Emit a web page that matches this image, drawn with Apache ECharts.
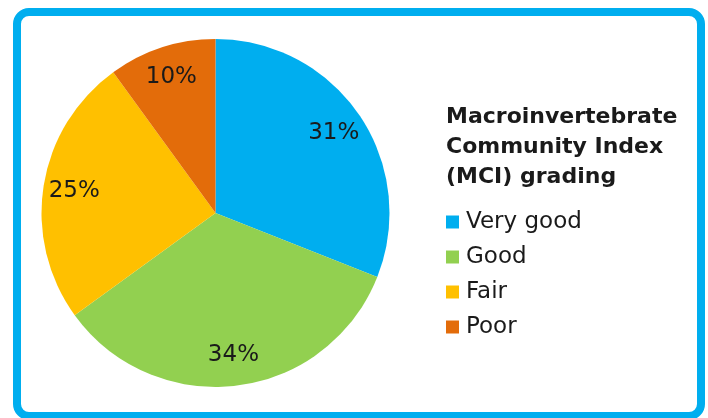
<!DOCTYPE html>
<html>
<head>
<meta charset="utf-8">
<script src="https://cdn.jsdelivr.net/npm/echarts@6/dist/echarts.min.js"></script>
<style>
  html, body { margin: 0; padding: 0; background: #fff; }
  #chart { width: 708px; height: 418px; }
</style>
</head>
<body>
<div id="chart"></div>
<script>
// MCI grading shares
const categories = ['Very good', 'Good', 'Fair', 'Poor'];
const shares = [31, 34, 25, 10];
const sliceColors = ['#00AEEF', '#92D050', '#FFC000', '#E36C0A'];
const legendTitle = 'Macroinvertebrate\nCommunity Index\n(MCI) grading';

const FONT = '"DejaVu Sans", sans-serif';
const pieData = categories.map((name, i) => ({ name, value: shares[i] }));

const chart = echarts.init(document.getElementById('chart'), null, { renderer: 'canvas' });
chart.setOption({
  backgroundColor: '#fff',
  animation: false,
  color: sliceColors,
  graphic: [{
    type: 'rect',
    shape: { x: 17, y: 12, width: 684, height: 404, r: 12 },
    style: { fill: 'none', stroke: '#00AEEF', lineWidth: 8 },
    silent: true
  }],
  title: {
    text: legendTitle,
    left: 441,
    top: 97,
    textStyle: { fontFamily: FONT, fontSize: 22, fontWeight: 'bold', color: '#1a1a1a', lineHeight: 30 }
  },
  legend: {
    orient: 'vertical',
    left: 446,
    top: 210,
    padding: 0,
    icon: 'rect',
    itemWidth: 13,
    itemHeight: 13,
    itemGap: 11,
    data: categories,
    textStyle: { fontFamily: FONT, fontSize: 23, color: '#1a1a1a', lineHeight: 24, padding: [0, 0, 0, 2] }
  },
  series: [
    {
      type: 'pie',
      center: [215.5, 213],
      radius: 174,
      startAngle: 90,
      clockwise: true,
      label: { show: false },
      labelLine: { show: false },
      emphasis: { disabled: true },
      data: pieData
    },
    {
      // transparent ring that carries the percentage labels
      type: 'pie',
      center: [215.5, 213],
      radius: [106, 174],
      startAngle: 90,
      clockwise: true,
      silent: true,
      itemStyle: { color: 'rgba(0,0,0,0)' },
      label: {
        show: true,
        position: 'inside',
        formatter: '{c}%',
        fontFamily: FONT,
        fontSize: 23,
        color: '#1a1a1a'
      },
      labelLine: { show: false },
      emphasis: { disabled: true },
      data: pieData
    }
  ]
});
</script>
</body>
</html>
